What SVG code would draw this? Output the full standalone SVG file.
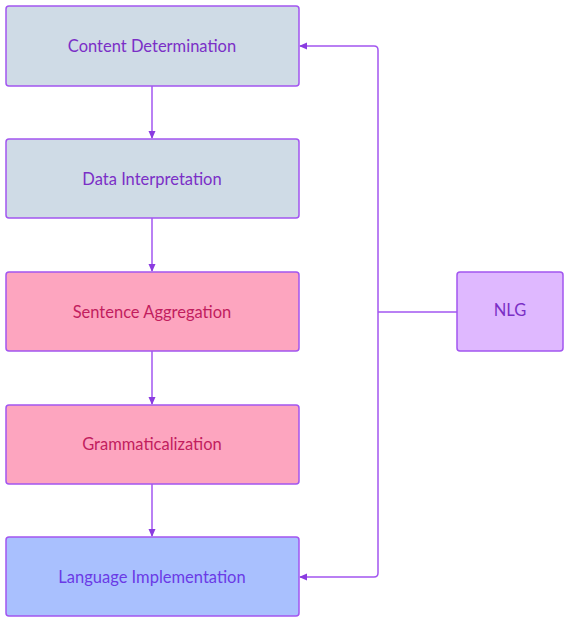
<svg xmlns="http://www.w3.org/2000/svg" width="570" height="618" viewBox="0 0 570 618">
<style>
.box{stroke:#a256f0;stroke-width:1.5}
.t{font-family:Lato,"Open Sans",sans-serif;font-size:16.5px;text-anchor:middle;dominant-baseline:central}
.grey{fill:#cfdbe6}
.pink{fill:#fda5bf}
.blue{fill:#a9c0fe}
.nlg{fill:#dfb8ff}
.c{fill:none;stroke:#a256f0;stroke-width:1.5}
</style>
<defs>
<marker id="ah" markerWidth="8" markerHeight="8" refX="7" refY="4" orient="auto" markerUnits="userSpaceOnUse">
<path d="M0,0.5 L8,4 L0,7.5 Z" fill="#8a3be0"/>
</marker>
</defs>
<rect width="570" height="618" fill="#ffffff"/>
<g id="connectors">
<line class="c" x1="152" y1="86" x2="152" y2="138" marker-end="url(#ah)"/>
<line class="c" x1="152" y1="218" x2="152" y2="271" marker-end="url(#ah)"/>
<line class="c" x1="152" y1="351" x2="152" y2="404" marker-end="url(#ah)"/>
<line class="c" x1="152" y1="484" x2="152" y2="536" marker-end="url(#ah)"/>
<line class="c" x1="457" y1="312" x2="378" y2="312"/>
<path class="c" d="M378,312 V50 Q378,46 374,46 H300" marker-end="url(#ah)"/>
<path class="c" d="M378,312 V573 Q378,577 374,577 H300" marker-end="url(#ah)"/>
</g>
<g id="content-determination">
<rect class="box grey" x="6" y="6" width="293" height="80" rx="3"/>
<text class="t" x="152" y="46" fill="#7b2fc6">Content Determination</text>
</g>
<g id="data-interpretation">
<rect class="box grey" x="6" y="139" width="293" height="79" rx="3"/>
<text class="t" x="152" y="179" fill="#7b2fc6">Data Interpretation</text>
</g>
<g id="sentence-aggregation">
<rect class="box pink" x="6" y="272" width="293" height="79" rx="3"/>
<text class="t" x="152" y="312" fill="#c21d5e">Sentence Aggregation</text>
</g>
<g id="grammaticalization">
<rect class="box pink" x="6" y="405" width="293" height="79" rx="3"/>
<text class="t" x="152" y="444" fill="#c21d5e">Grammaticalization</text>
</g>
<g id="language-implementation">
<rect class="box blue" x="6" y="537" width="293" height="79" rx="3"/>
<text class="t" x="152" y="577" fill="#6a3be6">Language Implementation</text>
</g>
<g id="nlg">
<rect class="box nlg" x="457" y="272" width="106" height="79" rx="3"/>
<text class="t" x="510" y="310" fill="#7b2fc6">NLG</text>
</g>
</svg>
